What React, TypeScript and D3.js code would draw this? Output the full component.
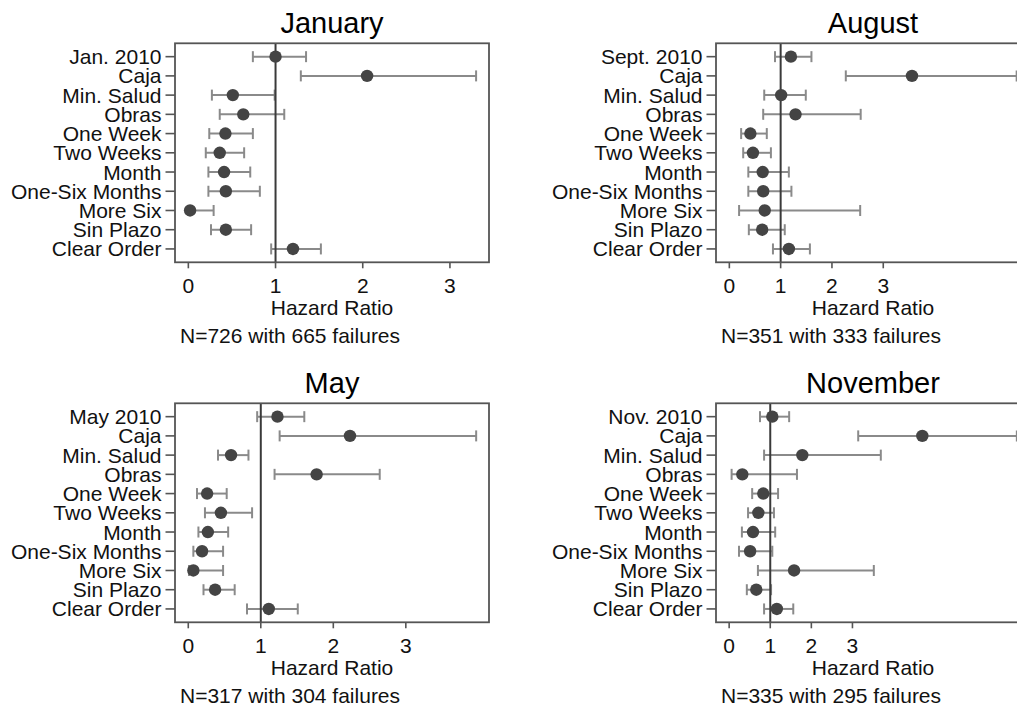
import React from "react";
import * as d3 from "d3";

const rowLabelsBase = ["Caja", "Min. Salud", "Obras", "One Week", "Two Weeks", "Month", "One-Six Months", "More Six", "Sin Plazo", "Clear Order"];

const panelTitles = ["January", "August", "May", "November"];
const firstLabels = ["Jan. 2010", "Sept. 2010", "May 2010", "Nov. 2010"];
const notes = ["N=726 with 665 failures", "N=351 with 333 failures", "N=317 with 304 failures", "N=335 with 295 failures"];
const xTickValues = [0, 1, 2, 3];

// hazard ratio estimates and 95% CI (lower, upper), in row order
const janHR = [1.0, 2.05, 0.51, 0.63, 0.425, 0.36, 0.41, 0.43, 0.02, 0.43, 1.2];
const janLo = [0.74, 1.29, 0.27, 0.36, 0.24, 0.2, 0.23, 0.23, 0.0, 0.26, 0.95];
const janHi = [1.35, 3.3, 0.99, 1.1, 0.74, 0.64, 0.71, 0.82, 0.29, 0.72, 1.52];

const augHR = [1.2, 3.56, 1.01, 1.29, 0.41, 0.46, 0.65, 0.66, 0.69, 0.64, 1.16];
const augLo = [0.89, 2.27, 0.68, 0.66, 0.23, 0.27, 0.37, 0.37, 0.19, 0.38, 0.85];
const augHi = [1.6, 5.6, 1.49, 2.56, 0.73, 0.81, 1.16, 1.21, 2.55, 1.08, 1.57];

const mayHR = [1.23, 2.23, 0.59, 1.77, 0.26, 0.45, 0.27, 0.19, 0.07, 0.37, 1.11];
const mayLo = [0.95, 1.26, 0.41, 1.19, 0.12, 0.23, 0.14, 0.07, 0.01, 0.21, 0.81];
const mayHi = [1.6, 3.97, 0.83, 2.64, 0.53, 0.88, 0.55, 0.48, 0.48, 0.64, 1.51];

const novHR = [1.05, 4.7, 1.78, 0.32, 0.83, 0.71, 0.58, 0.51, 1.58, 0.66, 1.16];
const novLo = [0.75, 3.14, 0.85, 0.06, 0.56, 0.46, 0.31, 0.24, 0.7, 0.43, 0.85];
const novHi = [1.46, 7.0, 3.69, 1.65, 1.19, 1.09, 1.12, 1.05, 3.52, 1.02, 1.56];

const xDomains: [number, number][] = [
  [-0.153, 3.448],
  [-0.26, 5.86],
  [-0.183, 4.147],
  [-0.32, 7.32],
];

const hrSeries = [janHR, augHR, mayHR, novHR];
const loSeries = [janLo, augLo, mayLo, novLo];
const hiSeries = [janHi, augHi, mayHi, novHi];

const FONT = "'Liberation Sans', Arial, Helvetica, sans-serif";

function Panel({ idx, left, top }: { idx: number; left: number; top: number }) {
  const w = 314;
  const h = 219;
  const labels = [firstLabels[idx], ...rowLabelsBase];
  const x = d3.scaleLinear().domain(xDomains[idx]).range([left, left + w]);
  const y = d3.scalePoint<string>().domain(labels).range([top, top + h]).padding(0.695);
  const hr = hrSeries[idx];
  const lo = loSeries[idx];
  const hi = hiSeries[idx];
  const cx = left + w / 2;
  return (
    <g>
      <text x={cx} y={top - 10} textAnchor="middle" fontSize={29} fontFamily={FONT} fill="#000">
        {panelTitles[idx]}
      </text>
      {/* y ticks & labels */}
      {labels.map((l) => (
        <g key={l}>
          <line x1={left - 9.5} x2={left} y1={y(l)} y2={y(l)} stroke="#555" strokeWidth={1.6} />
          <text x={left - 13.5} y={y(l)} dy="0.36em" textAnchor="end" fontSize={21} fontFamily={FONT} fill="#111">
            {l}
          </text>
        </g>
      ))}
      {/* x ticks */}
      {xTickValues.map((t) => (
        <g key={t}>
          <line x1={x(t)} x2={x(t)} y1={top + h} y2={top + h + 6} stroke="#555" strokeWidth={1.6} />
          <text x={x(t)} y={top + h + 30.5} textAnchor="middle" fontSize={21} fontFamily={FONT} fill="#111">
            {t}
          </text>
        </g>
      ))}
      <text x={cx} y={top + h + 53} textAnchor="middle" fontSize={21} fontFamily={FONT} fill="#111">
        Hazard Ratio
      </text>
      <text x={left + 5} y={top + h + 81} textAnchor="start" fontSize={21} fontFamily={FONT} fill="#111">
        {notes[idx]}
      </text>
      {/* CIs */}
      {labels.map((l, i) => {
        const yy = y(l) as number;
        return (
          <g key={"ci" + l} stroke="#8a8a8a" strokeWidth={2}>
            <line x1={x(lo[i])} x2={x(hi[i])} y1={yy} y2={yy} />
            <line x1={x(lo[i])} x2={x(lo[i])} y1={yy - 5.5} y2={yy + 5.5} />
            <line x1={x(hi[i])} x2={x(hi[i])} y1={yy - 5.5} y2={yy + 5.5} />
          </g>
        );
      })}
      {/* reference line at 1 */}
      <line x1={x(1)} x2={x(1)} y1={top} y2={top + h} stroke="#3a3a3a" strokeWidth={2} />
      {/* points */}
      {labels.map((l, i) => (
        <circle key={"p" + l} cx={x(hr[i])} cy={y(l)} r={6.2} fill="#444" />
      ))}
      <rect x={left} y={top} width={w} height={h} fill="none" stroke="#555" strokeWidth={1.8} />
    </g>
  );
}

export default function App() {
  return (
    <svg
      width={1017}
      height={706}
      style={{ position: "absolute", left: 0, top: 0, background: "#fff" }}
    >
      <rect x={0} y={0} width={1017} height={706} fill="#fff" />
      <Panel idx={0} left={175} top={43.3} />
      <Panel idx={1} left={716} top={43.3} />
      <Panel idx={2} left={175} top={403.3} />
      <Panel idx={3} left={716} top={403.3} />
    </svg>
  );
}
